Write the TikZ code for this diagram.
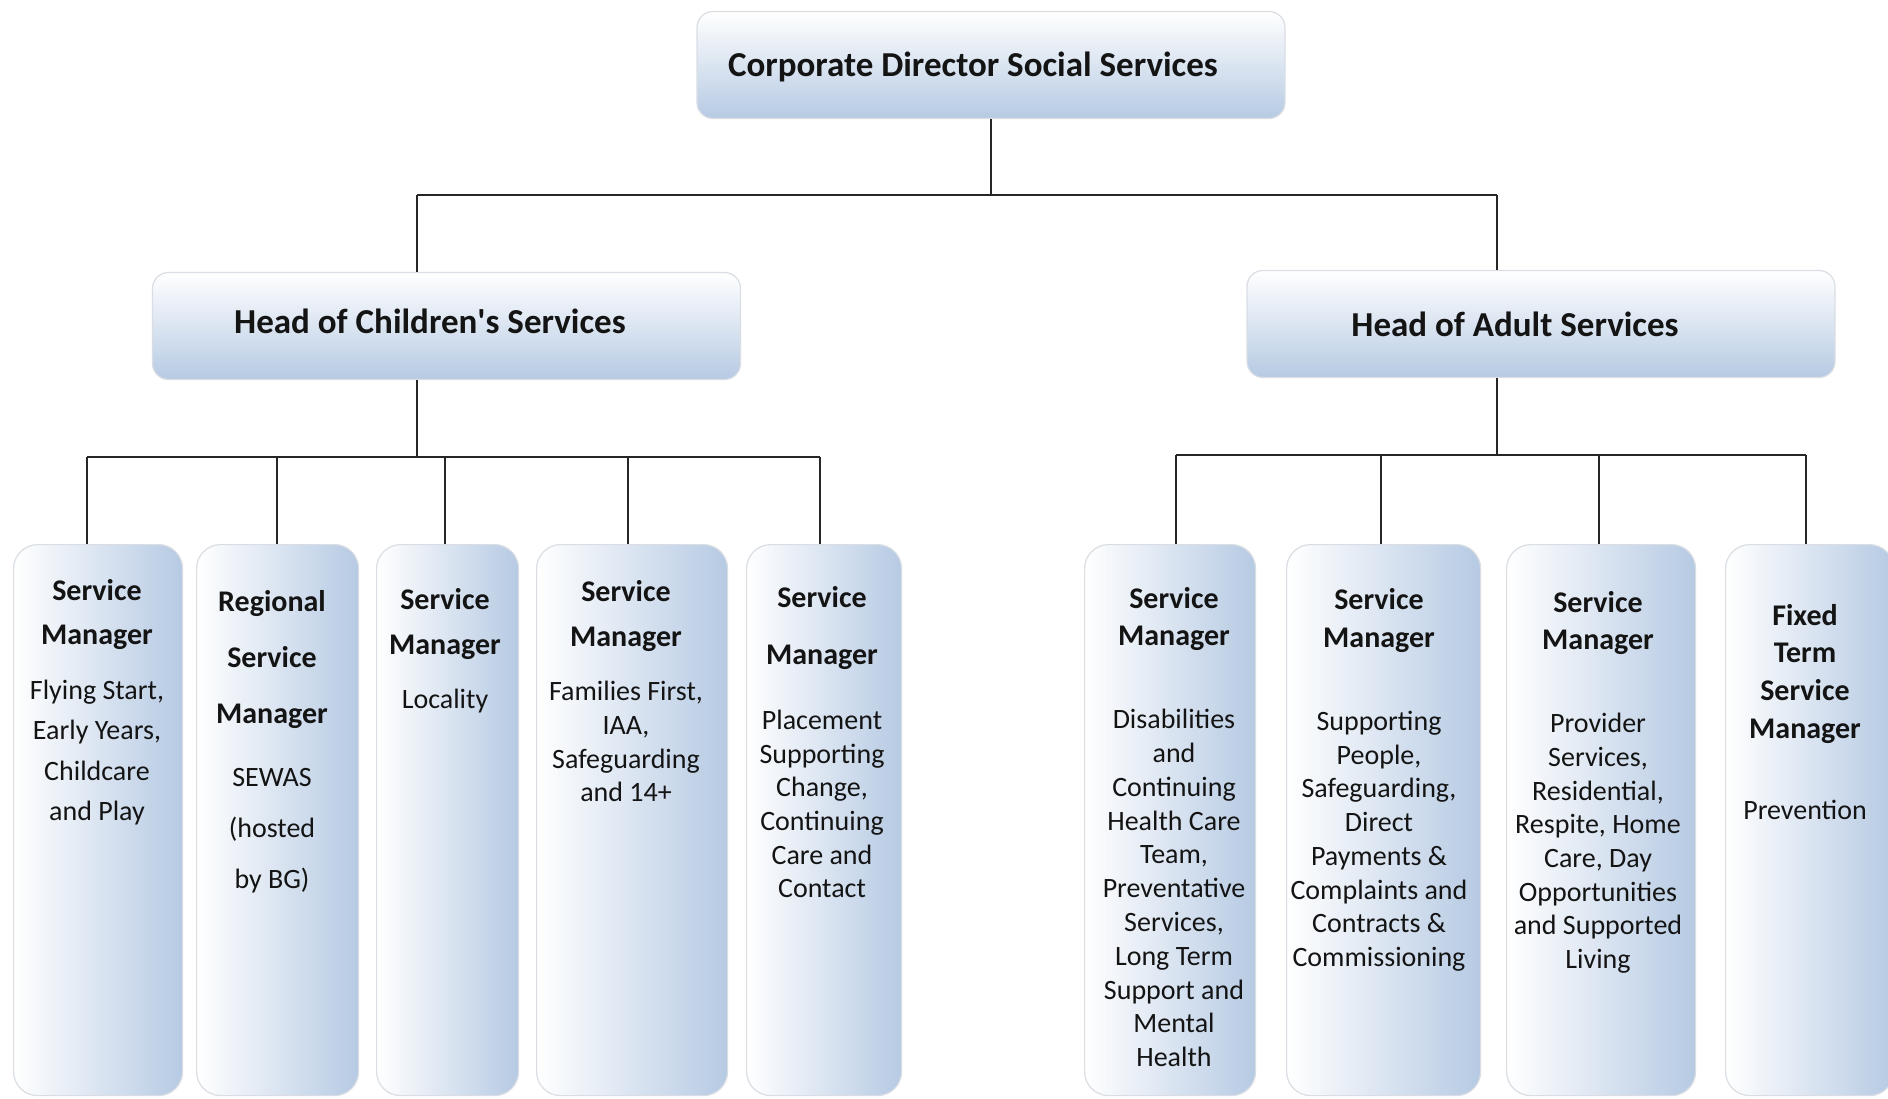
\documentclass[tikz,border=0pt]{standalone}
\usepackage{fontspec}
\setmainfont{Carlito}
\definecolor{boxb}{RGB}{182,202,227}
\definecolor{edgec}{RGB}{218,222,228}
\definecolor{txt}{RGB}{20,20,20}
\tikzset{
 headbox/.style={rectangle, rounded corners=16pt, draw=edgec, line width=1.2pt, top color=white, bottom color=boxb, minimum width=588pt, minimum height=107pt, inner sep=0pt},
 colbox/.style={rectangle, rounded corners=24pt, draw=edgec, line width=1.2pt, left color=white, right color=boxb, anchor=north west, minimum height=551pt, inner sep=0pt},
 headtxt/.style={font=\fontsize{35}{42}\selectfont\bfseries, text=txt, inner sep=0pt},
 colhdr/.style={font=\fontsize{30}{#1}\selectfont\bfseries, text=txt, align=center, anchor=north, inner sep=0pt},
 colbody/.style={font=\fontsize{28}{#1}\selectfont, text=txt, align=center, anchor=north, inner sep=0pt},
 conn/.style={draw=black!85, line width=1.3pt}
}
\begin{document}
\begin{tikzpicture}[x=1pt,y=-1pt]
\useasboundingbox (0,0) rectangle (1888,1099);
\clip (0,0) rectangle (1888,1099);
\fill[white] (0,0) rectangle (1888,1099);
% head boxes
\node[headbox] (top) at (991,65) {};
\node[headbox] (chead) at (446.5,326) {};
\node[headbox] (ahead) at (1541,324) {};
\node[headtxt] (toptx) at (973,67) {Corporate Director Social Services};
\node[headtxt] (cheadtx) at (430,321) {Head of Children\textquotesingle s Services};
\node[headtxt] (aheadtx) at (1515,324) {Head of Adult Services};
% column boxes
\node[colbox, minimum width=169pt] (cc1) at (13,544) {};
\node[colbox, minimum width=162pt] (cc2) at (196,544) {};
\node[colbox, minimum width=142pt] (cc3) at (376,544) {};
\node[colbox, minimum width=191pt] (cc4) at (536,544) {};
\node[colbox, minimum width=155pt] (cc5) at (746,544) {};
\node[colbox, minimum width=171pt] (ac1) at (1084,544) {};
\node[colbox, minimum width=194pt] (ac2) at (1286,544) {};
\node[colbox, minimum width=189pt] (ac3) at (1506,544) {};
\node[colbox, minimum width=168pt] (ac4) at (1725,544) {};
% connectors
\coordinate (b0L) at (417,195);
\coordinate (b0R) at (1497,195);
\draw[conn] (top.south) -- (top.south |- b0L);
\draw[conn] (b0L) -- (b0R);
\draw[conn] (b0L) -- (b0L |- chead.north);
\draw[conn] (b0R) -- (b0R |- ahead.north);
\coordinate (cb) at (417,457);
\coordinate (cbL) at (87,457);
\coordinate (cbR) at (820,457);
\draw[conn] (cb |- chead.south) -- (cb);
\draw[conn] (cbL) -- (cbR);
\foreach \x/\n in {87/cc1,277/cc2,445/cc3,628/cc4,820/cc5}
  \draw[conn] (\x,457) -- (\x,457 |- \n.north);
\coordinate (ab) at (1497,455);
\coordinate (abL) at (1176,455);
\coordinate (abR) at (1806,455);
\draw[conn] (ab |- ahead.south) -- (ab);
\draw[conn] (abL) -- (abR);
\foreach \x/\n in {1176/ac1,1381/ac2,1599/ac3,1806/ac4}
  \draw[conn] (\x,455) -- (\x,455 |- \n.north);
% column texts
\node[colhdr=44] (cc1h) at (97,579) {Service\\Manager};
\node[colbody=40.3] (cc1b) at (97,680) {Flying Start,\\Early Years,\\Childcare\\and Play};
\node[colhdr=56] (cc2h) at (272,590) {Regional\\Service\\Manager};
\node[colbody=51] (cc2b) at (272,768) {SEWAS\\(hosted\\by BG)};
\node[colhdr=45] (cc3h) at (445,588) {Service\\Manager};
\node[colbody=34] (cc3b) at (445,689) {Locality};
\node[colhdr=45] (cc4h) at (626,580) {Service\\Manager};
\node[colbody=33.7] (cc4b) at (626,681) {Families First,\\IAA,\\Safeguarding\\and 14+};
\node[colhdr=57] (cc5h) at (822,586) {Service\\Manager};
\node[colbody=33.6] (cc5b) at (822,710) {Placement\\Supporting\\Change,\\Continuing\\Care and\\Contact};
\node[colhdr=37.5] (ac1h) at (1174,587) {Service\\Manager};
\node[colbody=33.8] (ac1b) at (1174,709) {Disabilities\\and\\Continuing\\Health Care\\Team,\\Preventative\\Services,\\Long Term\\Support and\\Mental\\Health};
\node[colhdr=38] (ac2h) at (1379,588) {Service\\Manager};
\node[colbody=33.7] (ac2b) at (1379,711) {Supporting\\People,\\Safeguarding,\\Direct\\Payments \&\\Complaints and\\Contracts \&\\Commissioning};
\node[colhdr=37] (ac3h) at (1598,591) {Service\\Manager};
\node[colbody=33.7] (ac3b) at (1598,713) {Provider\\Services,\\Residential,\\Respite, Home\\Care, Day\\Opportunities\\and Supported\\Living};
\node[colhdr=37.7] (ac4h) at (1805,604) {Fixed\\Term\\Service\\Manager};
\node[colbody=34] (ac4b) at (1805,800) {Prevention};
\end{tikzpicture}
\end{document}
